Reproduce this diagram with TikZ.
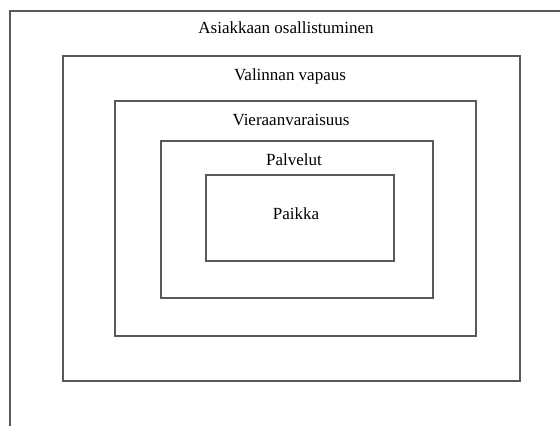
\documentclass[tikz,border=0pt]{standalone}
\usepackage{fontspec}
\setmainfont{Liberation Serif}
\begin{document}
\begin{tikzpicture}[x=1pt,y=-1pt,
  frame/.style={draw=black!65,line width=1.1pt},
  lbl/.style={font=\fontsize{17}{19}\selectfont,text=black,inner sep=0pt}]
\useasboundingbox (0,0) rectangle (560,426);
% outer partial frame
\draw[frame] (560,11) -- (10,11) -- (10,426);
% nested rectangles
\draw[frame] (63,56) rectangle (520,381);
\draw[frame] (115,101) rectangle (476,336);
\draw[frame] (161,141) rectangle (433,298);
\draw[frame] (206,175) rectangle (394,261);
% labels
\node[lbl] (t0) at (286,28) {Asiakkaan osallistuminen};
\node[lbl] (t1) at (290,76) {Valinnan vapaus};
\node[lbl] (t2) at (291,120) {Vieraanvaraisuus};
\node[lbl] (t3) at (294,160) {Palvelut};
\node[lbl] (t4) at (296,214) {Paikka};
\end{tikzpicture}
\end{document}
